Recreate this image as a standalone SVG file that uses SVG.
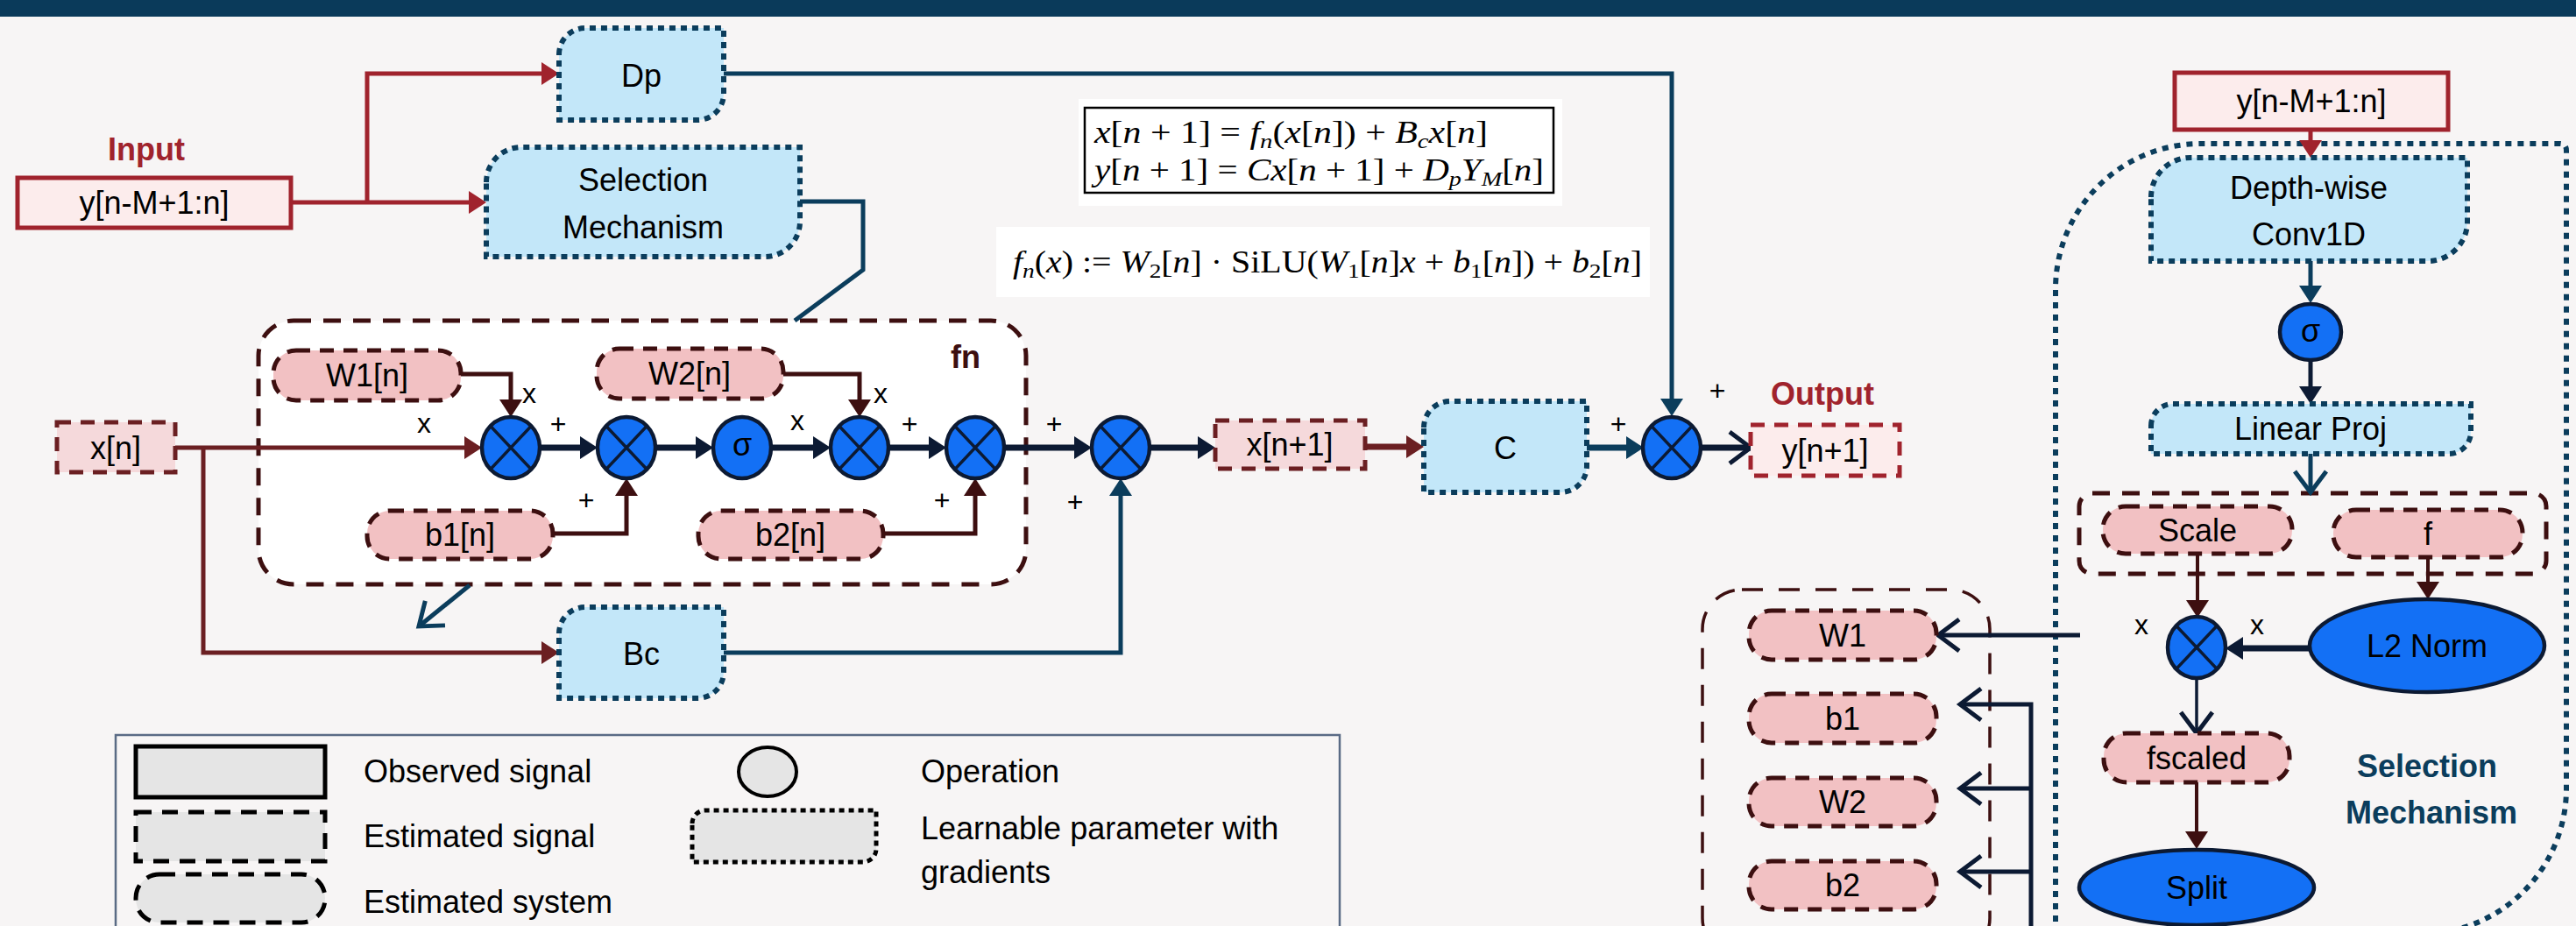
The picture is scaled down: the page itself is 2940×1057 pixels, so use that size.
<svg xmlns="http://www.w3.org/2000/svg" width="2940" height="1057" viewBox="0 0 2940 1057">
<style>
.t{font-family:"Liberation Sans",Arial,sans-serif;font-size:36px;fill:#000;text-anchor:middle}
.tl{text-anchor:start}
.b{font-weight:bold}
.lbl{font-size:32px}
.m{font-family:"Liberation Serif","DejaVu Serif",serif;font-size:35px;fill:#000}
.i{font-style:italic}
.lp{fill:#C3E7F9;stroke:#0B3D5C;stroke-width:6;stroke-dasharray:7 6}
.pk{fill:#F2C1C3;stroke:#3D0F10;stroke-width:5;stroke-dasharray:16 11}
.es{fill:#F5D9DB;stroke:#6B1F22;stroke-width:5;stroke-dasharray:16 11}
.op{fill:#1370F5;stroke:#0C1A33;stroke-width:4.5}
.c{fill:none;stroke-linejoin:miter}
.navy{stroke:#0C1A33}
.blue{stroke:#0B3D5C}
.mar{stroke:#3D0F10}
.mar2{stroke:#6B1F22}
.red{stroke:#A0232D}
.lg{fill:#E5E5E5;stroke:#000;stroke-width:5}
</style>
<defs>
<marker id="fNavy" markerUnits="userSpaceOnUse" markerWidth="20" markerHeight="26" viewBox="0 0 20 26" refX="2" refY="13" orient="auto"><path d="M0,0 L20,13 L0,26 Z" fill="#0C1A33"/></marker>
<marker id="fBlue" markerUnits="userSpaceOnUse" markerWidth="20" markerHeight="26" viewBox="0 0 20 26" refX="2" refY="13" orient="auto"><path d="M0,0 L20,13 L0,26 Z" fill="#0B3D5C"/></marker>
<marker id="fMar" markerUnits="userSpaceOnUse" markerWidth="20" markerHeight="26" viewBox="0 0 20 26" refX="2" refY="13" orient="auto"><path d="M0,0 L20,13 L0,26 Z" fill="#3D0F10"/></marker>
<marker id="fMar2" markerUnits="userSpaceOnUse" markerWidth="20" markerHeight="26" viewBox="0 0 20 26" refX="2" refY="13" orient="auto"><path d="M0,0 L20,13 L0,26 Z" fill="#6B1F22"/></marker>
<marker id="fRed" markerUnits="userSpaceOnUse" markerWidth="20" markerHeight="26" viewBox="0 0 20 26" refX="2" refY="13" orient="auto"><path d="M0,0 L20,13 L0,26 Z" fill="#A0232D"/></marker>
<marker id="oNavy" markerUnits="userSpaceOnUse" markerWidth="36" markerHeight="46" viewBox="-6 -5 36 46" refX="24" refY="18" orient="auto"><path d="M0,0 L24,18 L0,36" fill="none" stroke="#0C1A33" stroke-width="5"/></marker>
<marker id="oBlue" markerUnits="userSpaceOnUse" markerWidth="36" markerHeight="46" viewBox="-6 -5 36 46" refX="24" refY="18" orient="auto"><path d="M0,0 L24,18 L0,36" fill="none" stroke="#0B3D5C" stroke-width="5"/></marker>
<g id="otimes"><ellipse rx="33" ry="35" class="op"/><path d="M-23.3,-24.7 L23.3,24.7 M23.3,-24.7 L-23.3,24.7" stroke="#0C1A33" stroke-width="3.5"/></g>
</defs>

<rect width="2940" height="1057" fill="#F7F5F5"/>
<rect x="0" y="0" width="2940" height="19" fill="#0A3A5A"/>

<!-- containers -->
<g id="fn-block">
<rect x="295" y="366" width="876" height="301" rx="40" fill="#FFFFFF" stroke="#3D0F10" stroke-width="5" stroke-dasharray="20 14"/>
<text class="t b" x="1102" y="420" style="fill:#3D0F10">fn</text>
</g>
<g id="param-container">
<rect x="1943" y="673" width="328" height="420" rx="45" fill="none" stroke="#3D0F10" stroke-width="3.5" stroke-dasharray="24 18"/>
</g>
<g id="selection-container">
<path d="M2346,1080 L2346,330 A166,166 0 0 1 2512,164 L2921,164 Q2929,164 2929,172 L2929,900 A166,166 0 0 1 2763,1066" fill="none" stroke="#0B3D5C" stroke-width="6" stroke-dasharray="7 7"/>
<text class="t b" x="2770" y="887" style="fill:#0B3D5C">Selection</text>
<text class="t b" x="2775" y="940" style="fill:#0B3D5C">Mechanism</text>
</g>
<g id="scale-f-group">
<rect x="2373" y="563" width="533" height="92" rx="15" fill="none" stroke="#3D0F10" stroke-width="5" stroke-dasharray="20 14"/>
</g>

<!-- equations -->
<g id="equations">
<rect x="1231" y="113" width="552" height="122" fill="#FFFFFF"/>
<rect x="1238" y="123" width="535" height="97" fill="none" stroke="#000" stroke-width="2.5"/>
<text class="m" x="1249" y="163" textLength="449" lengthAdjust="spacingAndGlyphs"><tspan class="i">x</tspan>[<tspan class="i">n</tspan> + 1] = <tspan class="i">f</tspan><tspan class="i" font-size="24" dy="6">n</tspan><tspan dy="-6">(</tspan><tspan class="i">x</tspan>[<tspan class="i">n</tspan>]) + <tspan class="i">B</tspan><tspan class="i" font-size="24" dy="6">c</tspan><tspan class="i" dy="-6">x</tspan>[<tspan class="i">n</tspan>]</text>
<text class="m" x="1249" y="206" textLength="513" lengthAdjust="spacingAndGlyphs"><tspan class="i">y</tspan>[<tspan class="i">n</tspan> + 1] = <tspan class="i">Cx</tspan>[<tspan class="i">n</tspan> + 1] + <tspan class="i">D</tspan><tspan class="i" font-size="24" dy="6">p</tspan><tspan class="i" dy="-6">Y</tspan><tspan class="i" font-size="24" dy="6">M</tspan><tspan dy="-6">[</tspan><tspan class="i">n</tspan>]</text>
<rect x="1137" y="259" width="746" height="80" fill="#FFFFFF"/>
<text class="m" x="1156" y="311" textLength="718" lengthAdjust="spacingAndGlyphs"><tspan class="i">f</tspan><tspan class="i" font-size="24" dy="6">n</tspan><tspan dy="-6">(</tspan><tspan class="i">x</tspan>) := <tspan class="i">W</tspan><tspan font-size="24" dy="6">2</tspan><tspan dy="-6">[</tspan><tspan class="i">n</tspan>] · SiLU(<tspan class="i">W</tspan><tspan font-size="24" dy="6">1</tspan><tspan dy="-6">[</tspan><tspan class="i">n</tspan>]<tspan class="i">x</tspan> + <tspan class="i">b</tspan><tspan font-size="24" dy="6">1</tspan><tspan dy="-6">[</tspan><tspan class="i">n</tspan>]) + <tspan class="i">b</tspan><tspan font-size="24" dy="6">2</tspan><tspan dy="-6">[</tspan><tspan class="i">n</tspan>]</text>
</g>

<!-- legend -->
<g id="legend">
<rect x="132" y="839" width="1397" height="240" fill="none" stroke="#5A6B85" stroke-width="2.5"/>
<rect x="155" y="852" width="216" height="58" class="lg"/>
<text class="t tl" x="415" y="893">Observed signal</text>
<rect x="155" y="927" width="216" height="56" class="lg" stroke-dasharray="18 12"/>
<text class="t tl" x="415" y="967">Estimated signal</text>
<rect x="155" y="998" width="216" height="55" rx="27" class="lg" stroke-dasharray="18 12"/>
<text class="t tl" x="415" y="1042">Estimated system</text>
<ellipse cx="876" cy="881" rx="33" ry="28" fill="#E5E5E5" stroke="#000" stroke-width="4"/>
<text class="t tl" x="1051" y="893">Operation</text>
<path d="M790,940 A15,15 0 0 1 805,925 L1000,925 L1000,969 A15,15 0 0 1 985,984 L790,984 Z" fill="#E5E5E5" stroke="#000" stroke-width="5" stroke-dasharray="6 5"/>
<text class="t tl" x="1051" y="958">Learnable parameter with</text>
<text class="t tl" x="1051" y="1008">gradients</text>
</g>

<!-- connectors -->
<g id="connectors" class="c">
<path d="M332,231 H537" class="c red" stroke-width="5" marker-end="url(#fRed)"/>
<path d="M419,231 V84 H620" class="c red" stroke-width="5" marker-end="url(#fRed)"/>
<path d="M200,511 H532" class="c mar2" stroke-width="5" marker-end="url(#fMar2)"/>
<path d="M232,511 V745 H620" class="c mar2" stroke-width="5" marker-end="url(#fMar2)"/>
<path d="M526,427 H583 V458" class="c mar" stroke-width="5" marker-end="url(#fMar)"/>
<path d="M894,427 H981 V458" class="c mar" stroke-width="5" marker-end="url(#fMar)"/>
<path d="M631,609 H715 V564" class="c mar" stroke-width="5" marker-end="url(#fMar)"/>
<path d="M1008,609 H1113 V564" class="c mar" stroke-width="5" marker-end="url(#fMar)"/>
<path d="M616,511 H664" class="c navy" stroke-width="7" marker-end="url(#fNavy)"/>
<path d="M748,511 H796" class="c navy" stroke-width="7" marker-end="url(#fNavy)"/>
<path d="M880,511 H930" class="c navy" stroke-width="7" marker-end="url(#fNavy)"/>
<path d="M1014,511 H1062" class="c navy" stroke-width="7" marker-end="url(#fNavy)"/>
<path d="M1146,511 H1228" class="c navy" stroke-width="7" marker-end="url(#fNavy)"/>
<path d="M1312,511 H1369" class="c navy" stroke-width="7" marker-end="url(#fNavy)"/>
<path d="M1558,510 H1607" class="c mar2" stroke-width="7" marker-end="url(#fMar2)"/>
<path d="M1811,511 H1858" class="c blue" stroke-width="7" marker-end="url(#fBlue)"/>
<path d="M826,84 H1908 V457" class="c blue" stroke-width="5" marker-end="url(#fBlue)"/>
<path d="M826,745 H1279 V564" class="c blue" stroke-width="5" marker-end="url(#fBlue)"/>
<path d="M1940,511 H1998" class="c navy" stroke-width="7" marker-end="url(#oNavy)"/>
<path d="M913,230 H985 V308 L907,366" class="c blue" stroke-width="5"/>
<path d="M536,668 L478,715" class="c blue" stroke-width="5" marker-end="url(#oBlue)"/>
<path d="M2637,148 V162" class="c red" stroke-width="5" marker-end="url(#fRed)"/>
<path d="M2637,298 V328" class="c blue" stroke-width="5" marker-end="url(#fBlue)"/>
<path d="M2637,411 V443" class="c navy" stroke-width="5" marker-end="url(#fNavy)"/>
<path d="M2637,518 V562" class="c blue" stroke-width="5" marker-end="url(#oBlue)"/>
<path d="M2508,632 V687" class="c mar" stroke-width="4" marker-end="url(#fMar)"/>
<path d="M2771,636 V666" class="c mar" stroke-width="4" marker-end="url(#fMar)"/>
<path d="M2636,740 H2558" class="c navy" stroke-width="7" marker-end="url(#fNavy)"/>
<path d="M2507,772 V837" class="c navy" stroke-width="3.5" marker-end="url(#oNavy)"/>
<path d="M2507,893 V951" class="c mar" stroke-width="4" marker-end="url(#fMar)"/>
<path d="M2374,725 H2212" class="c navy" stroke-width="5" marker-end="url(#oNavy)"/>
<path d="M2318,1060 V804 H2237" class="c navy" stroke-width="5" marker-end="url(#oNavy)"/>
<path d="M2318,900 H2237" class="c navy" stroke-width="5" marker-end="url(#oNavy)"/>
<path d="M2318,995 H2237" class="c navy" stroke-width="5" marker-end="url(#oNavy)"/>
</g>

<!-- left nodes -->
<g id="input">
<text class="t b" x="167" y="183" style="fill:#A0232D">Input</text>
<rect x="20" y="203" width="312" height="57" fill="#FCECEC" stroke="#A0232D" stroke-width="5"/>
<text class="t" x="176" y="244">y[n-M+1:n]</text>
</g>
<g id="Dp">
<path d="M638,62 A30,30 0 0 1 668,32 L826,32 L826,107 A30,30 0 0 1 796,137 L638,137 Z" class="lp"/>
<text class="t" x="732" y="99">Dp</text>
</g>
<g id="selection-mechanism">
<path d="M555,208 A40,40 0 0 1 595,168 L913,168 L913,253 A40,40 0 0 1 873,293 L555,293 Z" class="lp"/>
<text class="t" x="734" y="218">Selection</text>
<text class="t" x="734" y="272">Mechanism</text>
</g>
<g id="xn">
<rect x="65" y="482" width="135" height="57" class="es"/>
<text class="t" x="132" y="524">x[n]</text>
</g>
<g id="W1n"><rect x="312" y="400" width="214" height="57" rx="26" class="pk"/><text class="t" x="419" y="441">W1[n]</text></g>
<g id="W2n"><rect x="681" y="398" width="213" height="57" rx="26" class="pk"/><text class="t" x="787" y="439">W2[n]</text></g>
<g id="b1n"><rect x="419" y="583" width="212" height="55" rx="26" class="pk"/><text class="t" x="525" y="623">b1[n]</text></g>
<g id="b2n"><rect x="797" y="583" width="211" height="55" rx="26" class="pk"/><text class="t" x="902" y="623">b2[n]</text></g>
<g id="op1"><use href="#otimes" x="583" y="511"/></g>
<g id="op2"><use href="#otimes" x="715" y="511"/></g>
<g id="sigma1"><ellipse cx="847" cy="511" rx="33" ry="35" class="op"/><text class="t" x="847" y="520">σ</text></g>
<g id="op4"><use href="#otimes" x="981" y="511"/></g>
<g id="op5"><use href="#otimes" x="1113" y="511"/></g>
<g id="op6"><use href="#otimes" x="1279" y="511"/></g>
<g id="Bc">
<path d="M638,723 A30,30 0 0 1 668,693 L826,693 L826,767 A30,30 0 0 1 796,797 L638,797 Z" class="lp"/>
<text class="t" x="732" y="759">Bc</text>
</g>
<g id="xn1"><rect x="1387" y="480" width="171" height="55" class="es"/><text class="t" x="1472" y="520">x[n+1]</text></g>
<g id="C">
<path d="M1625,488 A30,30 0 0 1 1655,458 L1811,458 L1811,532 A30,30 0 0 1 1781,562 L1625,562 Z" class="lp"/>
<text class="t" x="1718" y="524">C</text>
</g>
<g id="sum"><use href="#otimes" x="1908" y="511"/></g>
<g id="output">
<text class="t b" x="2080" y="462" style="fill:#A0232D">Output</text>
<rect x="1998" y="485" width="170" height="58" fill="#FCECEC" stroke="#A0232D" stroke-width="5" stroke-dasharray="16 11"/>
<text class="t" x="2083" y="527">y[n+1]</text>
</g>
<g id="signs">
<text x="604" y="460" class="t lbl">x</text>
<text x="1005" y="460" class="t lbl">x</text>
<text x="484" y="494" class="t lbl">x</text>
<text x="637" y="495" class="t lbl">+</text>
<text x="910" y="491" class="t lbl">x</text>
<text x="1038" y="495" class="t lbl">+</text>
<text x="669" y="582" class="t lbl">+</text>
<text x="1075" y="582" class="t lbl">+</text>
<text x="1203" y="495" class="t lbl">+</text>
<text x="1227" y="584" class="t lbl">+</text>
<text x="1847" y="495" class="t lbl">+</text>
<text x="1960" y="457" class="t lbl">+</text>
<text x="2444" y="724" class="t lbl">x</text>
<text x="2576" y="724" class="t lbl">x</text>
</g>

<!-- right nodes -->
<g id="input-right"><rect x="2482" y="83" width="312" height="65" fill="#FCECEC" stroke="#A0232D" stroke-width="5"/><text class="t" x="2638" y="128">y[n-M+1:n]</text></g>
<g id="depthwise">
<path d="M2455,225 A45,45 0 0 1 2500,180 L2816,180 L2816,253 A45,45 0 0 1 2771,298 L2455,298 Z" class="lp"/>
<text class="t" x="2635" y="227">Depth-wise</text>
<text class="t" x="2635" y="280">Conv1D</text>
</g>
<g id="sigma2"><ellipse cx="2637" cy="379" rx="35" ry="32" class="op"/><text class="t" x="2637" y="390">σ</text></g>
<g id="linproj">
<path d="M2455,486 A25,25 0 0 1 2480,461 L2820,461 L2820,493 A25,25 0 0 1 2795,518 L2455,518 Z" class="lp"/>
<text class="t" x="2637" y="502">Linear Proj</text>
</g>
<g id="scale"><rect x="2400" y="578" width="216" height="54" rx="26" class="pk"/><text class="t" x="2508" y="618">Scale</text></g>
<g id="f"><rect x="2663" y="582" width="216" height="54" rx="26" class="pk"/><text class="t" x="2771" y="622">f</text></g>
<g id="mult"><use href="#otimes" x="2507" y="739"/></g>
<g id="l2norm"><ellipse cx="2770" cy="737" rx="134" ry="53" class="op" stroke-width="5"/><text class="t" x="2770" y="750">L2 Norm</text></g>
<g id="fscaled"><rect x="2401" y="837" width="212" height="56" rx="26" class="pk"/><text class="t" x="2507" y="878">fscaled</text></g>
<g id="split"><ellipse cx="2507" cy="1013" rx="134" ry="43" class="op" stroke-width="5"/><text class="t" x="2507" y="1026">Split</text></g>
<g id="W1"><rect x="1996" y="697" width="214" height="56" rx="26" class="pk"/><text class="t" x="2103" y="738">W1</text></g>
<g id="b1"><rect x="1996" y="792" width="214" height="56" rx="26" class="pk"/><text class="t" x="2103" y="833">b1</text></g>
<g id="W2"><rect x="1996" y="888" width="214" height="55" rx="26" class="pk"/><text class="t" x="2103" y="928">W2</text></g>
<g id="b2"><rect x="1996" y="983" width="214" height="55" rx="26" class="pk"/><text class="t" x="2103" y="1023">b2</text></g>
</svg>
